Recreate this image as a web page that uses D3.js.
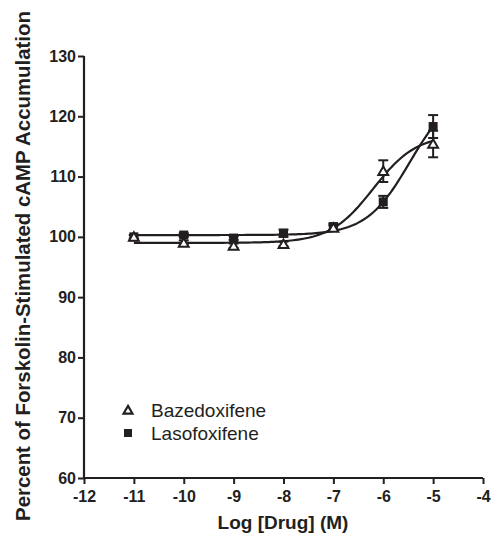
<!DOCTYPE html>
<html>
<head>
<meta charset="utf-8">
<script src="https://cdn.jsdelivr.net/npm/d3@7"></script>
<style>
  body { margin: 0; background: #fff; }
  svg text { font-family: "Liberation Sans", Arial, sans-serif; fill: #231f20; }
</style>
</head>
<body>
<div id="chart"></div>
<script>
// data
const logDose = [-11, -10, -9, -8, -7, -6, -5];
const bazeMean = [100.0, 99.0, 98.5, 98.8, 101.5, 110.9, 115.4];
const bazeErr = [0.3, 0.4, 0.4, 0.4, 0.4, 1.8, 2.2];
const lasoMean = [100.0, 100.3, 99.8, 100.6, 101.7, 105.8, 118.3];
const lasoErr = [0.3, 0.3, 0.3, 0.6, 0.5, 1.0, 1.9];
// 4PL fit parameters: bottom, top, logEC50, hill
const bazeFit = [99.0, 117.0, -6.2, 1];
const lasoFit = [100.3, 124.4, -5.47, 1];
const xTicks = [-12, -11, -10, -9, -8, -7, -6, -5, -4];
const yTicks = [60, 70, 80, 90, 100, 110, 120, 130];

const width = 494, height = 536;
const ink = "#231f20";

const svg = d3.select("#chart").append("svg")
  .attr("width", width).attr("height", height);

const x = d3.scaleLinear().domain([-12, -4]).range([84, 483]);
const y = d3.scaleLinear().domain([60, 130]).range([478, 56]);

// axes
const xAxis = svg.append("g")
  .attr("transform", `translate(0,${y(60)})`)
  .call(d3.axisBottom(x).tickValues(xTicks).tickSize(6).tickPadding(7)
    .tickFormat(d => d < 0 ? "-" + Math.abs(d) : String(d)));
const yAxis = svg.append("g")
  .attr("transform", `translate(${x(-12)},0)`)
  .call(d3.axisLeft(y).tickValues(yTicks).tickSize(6).tickPadding(2));

[xAxis, yAxis].forEach(g => {
  g.attr("font-size", 16).attr("font-family", "Liberation Sans, Arial, sans-serif")
    .attr("font-weight", "bold");
  g.select(".domain").attr("stroke", ink).attr("stroke-width", 2.2);
  g.selectAll(".tick line").attr("stroke", ink).attr("stroke-width", 2);
  g.selectAll(".tick text").attr("fill", ink)
    .style("font-size", "16px").style("font-weight", "bold");
});
xAxis.select(".domain").attr("d", `M${x(-12)},0H${x(-4)}`);
yAxis.select(".domain").attr("d", `M0,${y(60)}V${y(130)}`);

// titles
svg.append("text")
  .attr("x", 283).attr("y", 529)
  .attr("text-anchor", "middle")
  .style("font-size", "19px").style("font-weight", "bold")
  .text("Log [Drug] (M)");

svg.append("text")
  .attr("transform", "translate(30,266) rotate(-90)")
  .attr("text-anchor", "middle")
  .style("font-size", "20.4px").style("font-weight", "bold")
  .text("Percent of Forskolin-Stimulated cAMP Accumulation");

// fitted curves
const fourPL = (p, v) => p[0] + (p[1] - p[0]) / (1 + Math.pow(10, (p[2] - v) * p[3]));
const grid = d3.range(-11, -4.999, 0.05);
const line = d3.line().x(d => x(d[0])).y(d => y(d[1]));

[bazeFit, lasoFit].forEach(p => {
  svg.append("path")
    .datum(grid.map(v => [v, fourPL(p, v)]))
    .attr("d", line)
    .attr("fill", "none").attr("stroke", ink).attr("stroke-width", 2.2);
});

// error bars
function errorBars(mean, err) {
  const g = svg.append("g").attr("stroke", ink).attr("stroke-width", 2);
  logDose.forEach((d, i) => {
    const cx = x(d), y0 = y(mean[i] - err[i]), y1 = y(mean[i] + err[i]);
    g.append("line").attr("x1", cx).attr("x2", cx).attr("y1", y0).attr("y2", y1);
    g.append("line").attr("x1", cx - 5).attr("x2", cx + 5).attr("y1", y0).attr("y2", y0);
    g.append("line").attr("x1", cx - 5).attr("x2", cx + 5).attr("y1", y1).attr("y2", y1);
  });
}
errorBars(lasoMean, lasoErr);
errorBars(bazeMean, bazeErr);

// markers
const tri = d3.symbol().type(d3.symbolTriangle).size(42);
svg.append("g").selectAll("rect")
  .data(lasoMean).enter().append("rect")
  .attr("x", (d, i) => x(logDose[i]) - 4.5)
  .attr("y", d => y(d) - 4.5)
  .attr("width", 9).attr("height", 9)
  .attr("fill", ink);

svg.append("g").selectAll("path")
  .data(bazeMean).enter().append("path")
  .attr("d", tri)
  .attr("transform", (d, i) => `translate(${x(logDose[i])},${y(d) + 1})`)
  .attr("fill", "#fff").attr("stroke", ink).attr("stroke-width", 2);

// legend
const legend = svg.append("g");
legend.append("path").attr("d", d3.symbol().type(d3.symbolTriangle).size(34))
  .attr("transform", "translate(128,411)")
  .attr("fill", "#fff").attr("stroke", ink).attr("stroke-width", 2.2);
legend.append("rect").attr("x", 124).attr("y", 429).attr("width", 8).attr("height", 8).attr("fill", ink);
legend.append("text").attr("x", 151).attr("y", 417)
  .style("font-size", "19px").text("Bazedoxifene");
legend.append("text").attr("x", 151).attr("y", 440)
  .style("font-size", "19px").text("Lasofoxifene");
</script>
</body>
</html>
